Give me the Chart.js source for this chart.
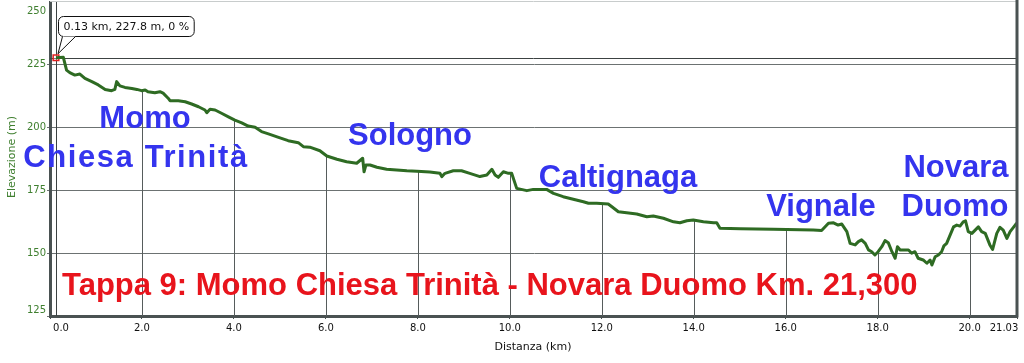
<!DOCTYPE html>
<html>
<head>
<meta charset="utf-8">
<script src="https://cdn.jsdelivr.net/npm/chart.js@4"></script>
<style>
  body { margin: 0; background: #fff; }
  #wrap { width: 1024px; height: 363px; }
</style>
</head>
<body>
<div id="wrap"><canvas id="myChart" width="1024" height="363"></canvas></div>
<script>
// distance (km) and elevation (m)
const km = [0.13,0.29,0.36,0.43,0.54,0.65,0.76,0.91,1.05,1.20,
  1.34,1.41,1.45,1.52,1.63,1.78,1.89,1.99,2.07,2.13,
  2.28,2.39,2.46,2.57,2.61,2.79,2.94,3.08,3.23,3.37,
  3.41,3.48,3.59,3.73,3.88,4.02,4.17,4.31,4.46,4.60,
  4.75,4.97,5.18,5.40,5.51,5.65,5.87,6.02,6.24,6.45,
  6.67,6.80,6.83,6.87,6.96,7.11,7.32,7.54,7.76,7.98,
  8.26,8.48,8.52,8.59,8.77,8.95,9.13,9.35,9.50,9.61,
  9.68,9.75,9.86,9.97,10.04,10.15,10.37,10.51,10.73,10.80,
  10.95,11.16,11.38,11.60,11.71,11.89,12.14,12.22,12.36,12.54,
  12.76,12.98,13.12,13.34,13.56,13.70,13.85,13.99,14.21,14.43,
  14.50,14.57,15.01,15.73,16.60,16.78,16.93,17.04,17.14,17.22,
  17.33,17.40,17.51,17.58,17.65,17.73,17.80,17.87,17.94,18.01,
  18.09,18.16,18.23,18.31,18.38,18.43,18.49,18.60,18.67,18.74,
  18.81,18.88,18.99,19.07,19.14,19.18,19.25,19.32,19.39,19.44,
  19.50,19.65,19.72,19.79,19.86,19.91,19.97,20.05,20.12,20.19,
  20.26,20.34,20.44,20.50,20.59,20.66,20.73,20.81,20.88,20.99,
  21.03];
const elev = [227.8,228.0,222.9,221.9,220.9,221.3,219.6,218.3,217.0,215.2,
  214.7,215.2,218.3,216.6,216.0,215.6,215.2,214.7,215.0,214.3,
  213.9,214.3,213.7,211.7,210.7,210.7,210.3,209.4,208.3,207.0,
  205.9,207.3,207.0,205.7,204.3,203.0,201.9,200.6,200.1,198.4,
  197.5,196.1,194.8,194.0,192.4,192.2,190.8,188.7,187.4,186.4,
  185.8,187.8,182.4,185.1,185.1,184.2,183.4,183.1,182.8,182.6,
  182.3,181.8,180.5,181.8,182.8,182.8,181.8,180.5,181.1,183.4,
  181.1,180.2,182.4,181.8,181.8,175.8,174.9,175.4,175.4,175.4,
  173.8,172.5,171.5,170.5,169.9,169.9,169.6,168.5,166.5,166.1,
  165.6,164.5,164.8,163.9,162.5,162.1,162.9,163.2,162.5,162.1,
  162.1,159.9,159.7,159.5,159.2,159.0,161.9,162.1,161.2,161.6,
  158.6,153.9,153.3,154.6,155.3,153.9,151.3,150.6,149.3,150.6,
  152.6,155.0,154.2,150.6,148.0,152.6,151.3,151.3,151.3,150.0,
  150.6,148.0,147.3,146.0,147.3,145.3,148.6,149.3,150.6,152.9,
  153.9,160.5,161.2,160.8,162.5,162.9,158.6,157.9,159.2,160.5,
  158.6,157.9,153.3,151.5,157.9,160.3,159.2,155.9,158.6,161.2,
  162.0];

const xTicks = [0,2,4,6,8,10,12,14,16,18,20,21.03];
const yTicks = [125,150,175,200,225,250];
const dropTicks = [2,4,6,8,10,12,14,16,18,20];

// hovered point shown in the tooltip
const cursorKm = 0.13;
const cursorElev = 227.8;
const cursorText = '0.13 km, 227.8 m, 0 %';

const placeNames = ['Momo', 'Chiesa Trinità', 'Sologno', 'Caltignaga', 'Vignale', 'Novara', 'Duomo'];
const title = 'Tappa 9: Momo Chiesa Trinità - Novara Duomo Km. 21,300';

// where the names sit on the canvas (centre x, baseline y)
const placePos = [[145, 128], [136, 167], [410, 145], [618, 187], [821, 216], [956, 177], [955, 216]];

const elevAt = v => {
  for (let i = 1; i < km.length; i++) {
    if (km[i] >= v) {
      const t = (v - km[i-1]) / (km[i] - km[i-1]);
      return elev[i-1] + t * (elev[i] - elev[i-1]);
    }
  }
  return elev[elev.length - 1];
};

const profilePlugin = {
  id: 'profile',
  beforeDatasetsDraw(chart) {
    const { ctx, chartArea: a, scales: { x, y } } = chart;
    ctx.save();
    ctx.lineWidth = 1;
    // drop lines from the profile down to the axis
    ctx.strokeStyle = '#565c5c';
    dropTicks.forEach(v => {
      const px = Math.round(x.getPixelForValue(v)) + 0.5;
      ctx.beginPath();
      ctx.moveTo(px, y.getPixelForValue(elevAt(v)));
      ctx.lineTo(px, a.bottom);
      ctx.stroke();
    });
    // crosshair
    ctx.strokeStyle = '#3c4242';
    const cx = Math.round(x.getPixelForValue(cursorKm)) + 0.5;
    const cy = Math.round(y.getPixelForValue(cursorElev)) + 0.5;
    ctx.beginPath();
    ctx.moveTo(a.left, cy); ctx.lineTo(a.right, cy);
    ctx.moveTo(cx, a.top); ctx.lineTo(cx, a.bottom);
    ctx.stroke();
    ctx.restore();
  },
  afterDraw(chart) {
    const { ctx, chartArea: a, scales: { x, y } } = chart;
    ctx.save();
    // frame: light top, heavy right
    ctx.strokeStyle = '#c8cccc';
    ctx.lineWidth = 1;
    ctx.beginPath(); ctx.moveTo(a.left, a.top - 0.5); ctx.lineTo(a.right, a.top - 0.5); ctx.stroke();
    ctx.strokeStyle = '#4a5252';
    ctx.lineWidth = 3;
    ctx.beginPath(); ctx.moveTo(a.right, 0); ctx.lineTo(a.right, a.bottom + 1.5); ctx.stroke();

    // tick labels, kept inside the frame
    ctx.font = '10px "DejaVu Sans"';
    ctx.fillStyle = '#3f7f2f';
    ctx.textAlign = 'right';
    ctx.textBaseline = 'middle';
    yTicks.forEach(v => {
      const py = Math.min(Math.max(y.getPixelForValue(v), a.top + 9), a.bottom - 6);
      ctx.fillText(String(v), a.left - 4, py);
    });
    ctx.fillStyle = '#111';
    ctx.textAlign = 'center';
    xTicks.forEach(v => {
      const lbl = v === 21.03 ? '21.03' : v.toFixed(1);
      const px = Math.min(Math.max(x.getPixelForValue(v), a.left + 11), a.right - 13);
      ctx.fillText(lbl, px, a.bottom + 12);
    });

    // axis titles
    ctx.font = '11px "DejaVu Sans"';
    ctx.fillText('Distanza (km)', 533, 347);
    ctx.save();
    ctx.translate(12, 157);
    ctx.rotate(-Math.PI / 2);
    ctx.fillStyle = '#3f7f2f';
    ctx.fillText('Elevazione (m)', 0, 0);
    ctx.restore();

    // tooltip
    const tx = x.getPixelForValue(cursorKm);
    const ty = y.getPixelForValue(cursorElev);
    ctx.font = '11px "DejaVu Sans"';
    const w = ctx.measureText(cursorText).width + 10;
    const bx = 58.5, by = 16.5, bh = 20;
    ctx.beginPath();
    ctx.roundRect(bx, by, w, bh, 5);
    ctx.fillStyle = '#fff';
    ctx.fill();
    ctx.strokeStyle = '#111';
    ctx.lineWidth = 1;
    ctx.stroke();
    ctx.beginPath();
    ctx.moveTo(bx + 4, by + bh);
    ctx.lineTo(tx + 2, ty - 4);
    ctx.lineTo(bx + 17, by + bh);
    ctx.closePath();
    ctx.fill();
    ctx.beginPath();
    ctx.moveTo(bx + 4, by + bh);
    ctx.lineTo(tx + 2, ty - 4);
    ctx.lineTo(bx + 17, by + bh);
    ctx.stroke();
    ctx.fillStyle = '#111';
    ctx.textAlign = 'left';
    ctx.fillText(cursorText, bx + 5, by + bh / 2 + 0.5);

    // place names and stage title
    ctx.textBaseline = 'alphabetic';
    ctx.textAlign = 'center';
    ctx.font = 'bold 31px "Liberation Sans"';
    ctx.fillStyle = '#3434ee';
    placeNames.forEach((name, i) => {
      ctx.letterSpacing = name.length > 12 ? '1.6px' : '0px';
      ctx.fillText(name, placePos[i][0], placePos[i][1]);
    });
    ctx.letterSpacing = '0px';
    ctx.textAlign = 'left';
    ctx.font = 'bold 31px "Liberation Sans"';
    ctx.fillStyle = '#e8141c';
    ctx.fillText(title, 62, 295);
    ctx.restore();
  }
};

Chart.defaults.font.family = '"DejaVu Sans"';
Chart.defaults.color = '#111';

const ctx = document.getElementById('myChart').getContext('2d');
const data = {
  datasets: [
    {
      label: 'Elevazione',
      data: km.map((k, i) => ({ x: k, y: elev[i] })),
      borderColor: '#2e6b23',
      borderWidth: 3,
      borderJoinStyle: 'round',
      pointRadius: 0,
      tension: 0,
    },
    {
      label: 'cursor',
      data: [{ x: cursorKm, y: cursorElev }],
      pointStyle: 'rect',
      pointRadius: 4,
      borderColor: '#e02020',
      backgroundColor: 'rgba(255,255,255,0.3)',
      borderWidth: 1.5,
      showLine: false,
    },
  ],
};

const config = {
  type: 'line',
  data: data,
  plugins: [profilePlugin],
  options: {
    responsive: false,
    animation: false,
    devicePixelRatio: 1,
    layout: { padding: { left: 0, top: 2, right: 7, bottom: 0 }, autoPadding: false },
    plugins: { legend: { display: false }, tooltip: { enabled: false } },
    scales: {
      x: {
        type: 'linear',
        min: 0,
        max: 21.03,
        afterBuildTicks: s => { s.ticks = xTicks.map(v => ({ value: v })); },
        afterFit: s => { s.height = 47; },
        ticks: { display: false },
        grid: { drawOnChartArea: false, tickLength: 3, color: '#4a5252' },
        border: { color: '#4a5252', width: 3 },
      },
      y: {
        min: 125,
        max: 250,
        afterBuildTicks: s => { s.ticks = yTicks.map(v => ({ value: v })); },
        afterFit: s => { s.width = 50; },
        ticks: { display: false },
        grid: {
          tickLength: 3,
          color: c => (c.tick && c.tick.value === 250 ? 'rgba(0,0,0,0)' : '#6c7272'),
        },
        border: { color: '#4a5252', width: 3 },
      },
    },
  },
};
const profileChart = new Chart(ctx, config);
</script>
</body>
</html>
